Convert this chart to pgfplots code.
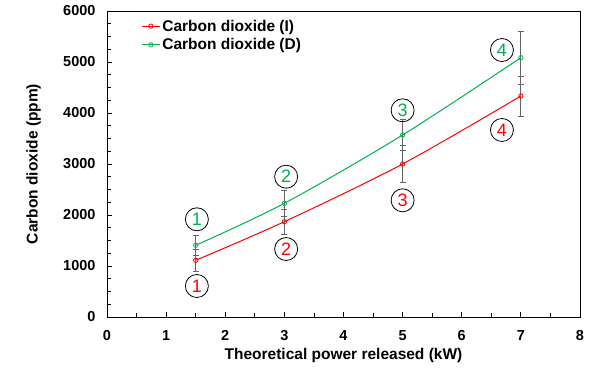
\documentclass[border=0pt]{standalone}
\usepackage{pgfplots}
\pgfplotsset{compat=1.18}
\usepackage{fontspec}
\setmainfont{Liberation Sans}

\definecolor{coI}{RGB}{255,0,0}
\definecolor{coD}{RGB}{0,176,80}
\definecolor{errgray}{RGB}{100,100,100}

% Carbon dioxide vs theoretical power, with standard deviations
\pgfplotstableread{
x    y     e
1.5  1112  220
3    1869  240
5    3000  370
7    4333  390
}\seriesI
\pgfplotstableread{
x    y     e
1.5  1406  200
3    2229  250
5    3569  310
7    5085  520
}\seriesD

\tikzset{numlabel/.style={circle, draw=black, line width=0.8pt, minimum size=23bp, inner sep=0pt,
  font=\fontsize{18bp}{18bp}\selectfont}}
\newcommand{\tl}[1]{\textbf{\fontsize{14.5bp}{17bp}\selectfont #1}}

\begin{document}
\begin{tikzpicture}
\begin{axis}[
  scale only axis,
  width=473bp, height=306bp,
  xmin=0, xmax=8, ymin=0, ymax=6000,
  xtick={0,1,...,8}, ytick={0,1000,...,6000},
  xticklabels={\tl{0},\tl{1},\tl{2},\tl{3},\tl{4},\tl{5},\tl{6},\tl{7},\tl{8}},
  yticklabels={\tl{0},\tl{1000},\tl{2000},\tl{3000},\tl{4000},\tl{5000},\tl{6000}},
  minor x tick num=1, minor y tick num=3,
  tick pos=left, tick align=inside,
  major tick length=5bp, minor tick length=4bp,
  tick style={black, line width=0.8pt},
  axis line style={black, line width=0.9pt},
  yticklabel style={xshift=-8bp},
  xticklabel style={yshift=-10bp},
  xlabel={Theoretical power released (kW)},
  ylabel={Carbon dioxide (ppm)},
  label style={font=\fontsize{15.5bp}{18bp}\selectfont\bfseries},
  xlabel style={at={(axis description cs:0.5,-0.09)}, anchor=north},
  ylabel style={at={(axis description cs:-0.178,0.5)}, anchor=north},
  legend style={at={(axis description cs:0.068,0.985)}, anchor=north west,
    draw=none, fill=none, font=\fontsize{15.5bp}{18bp}\selectfont\bfseries,
    row sep=2bp, inner sep=2bp},
  legend cell align=left,
  legend image code/.code={%
    \draw[#1, mark repeat=2, mark phase=2] plot coordinates {(0bp,0bp) (9bp,0bp) (18bp,0bp)};},
  clip=false,
]
% error bars
\addplot[forget plot, draw=none, mark=none,
  error bars/.cd, y dir=both, y explicit,
  error bar style={errgray, line width=0.8pt},
  error mark options={errgray, mark size=3bp, line width=0.8pt, rotate=90}]
  table[x=x, y=y, y error=e] {\seriesD};
\addplot[forget plot, draw=none, mark=none,
  error bars/.cd, y dir=both, y explicit,
  error bar style={errgray, line width=0.8pt},
  error mark options={errgray, mark size=3bp, line width=0.8pt, rotate=90}]
  table[x=x, y=y, y error=e] {\seriesI};
% series
\addplot[coI, line width=1pt, smooth, mark=o, mark size=2.2bp,
  mark options={fill=white, line width=0.8pt}] table[x=x, y=y] {\seriesI};
\addlegendentry{Carbon dioxide (I)}
\addplot[coD, line width=1pt, smooth, mark=o, mark size=2.2bp,
  mark options={fill=white, line width=0.8pt}] table[x=x, y=y] {\seriesD};
\addlegendentry{Carbon dioxide (D)}
% numbered tags
\node[numlabel, text=coD] at (axis cs:1.52,1916) {1};
\node[numlabel, text=coI] at (axis cs:1.52,608) {1};
\node[numlabel, text=coD] at (axis cs:3.03,2751) {2};
\node[numlabel, text=coI] at (axis cs:3.03,1333) {2};
\node[numlabel, text=coD] at (axis cs:5.0,4053) {3};
\node[numlabel, text=coI] at (axis cs:5.0,2288) {3};
\node[numlabel, text=coD] at (axis cs:6.68,5235) {4};
\node[numlabel, text=coI] at (axis cs:6.68,3667) {4};
\end{axis}
\pgfresetboundingbox
\path[use as bounding box] (current axis.south west) ++(-107bp,-54bp) rectangle ++(595bp,371bp);
\end{tikzpicture}
\end{document}
